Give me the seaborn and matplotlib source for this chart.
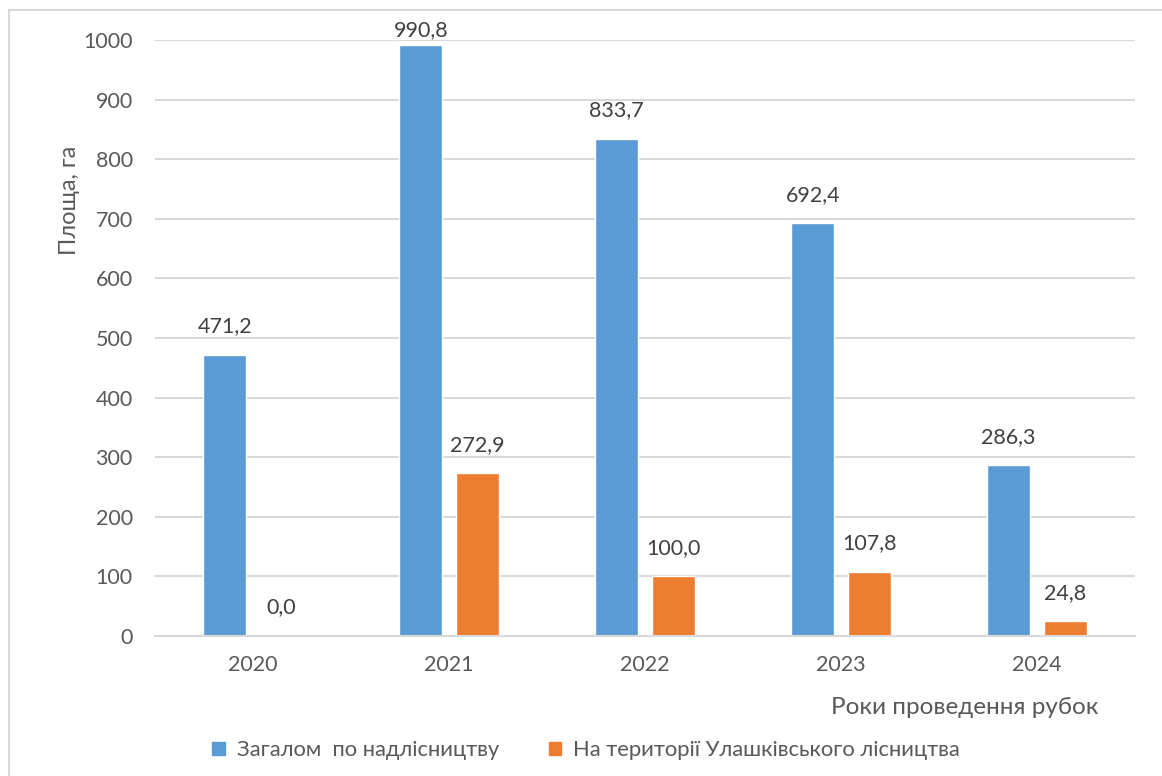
import matplotlib
matplotlib.use("Agg")
import matplotlib.pyplot as plt
import matplotlib.patches as mpatches
import seaborn as sns
import pandas as pd

years = ["2020", "2021", "2022", "2023", "2024"]
total_area = [471.2, 990.8, 833.7, 692.4, 286.3]
local_area = [0.0, 272.9, 100.0, 107.8, 24.8]
series_names = ["Загалом  по надлісництву", "На території Улашківського лісництва"]
colors = ["#5B9BD5", "#ED7D31"]

df = pd.DataFrame({
    "year": years * 2,
    "area": total_area + local_area,
    "series": [series_names[0]] * len(years) + [series_names[1]] * len(years),
})

sns.set_theme(style="white")
plt.rcParams["font.family"] = ["Lato", "DejaVu Sans"]

W, H = 1162, 776
fig = plt.figure(figsize=(W / 100, H / 100), dpi=100)

# chart frame
fig.patches.append(mpatches.Rectangle((9 / W, -0.05), 1.2, (H - 10) / H + 0.05,
                                      transform=fig.transFigure, fill=False,
                                      edgecolor="#d9d9d9", linewidth=1.5))

ax = fig.add_axes([155 / W, 1 - 636 / H, (1135 - 155) / W, (636 - 40) / H])

sns.barplot(data=df, x="year", y="area", hue="series", palette=colors,
            width=0.577, gap=0.24, ax=ax, legend=False, saturation=1)

ax.set_ylim(0, 1000)
ax.set_yticks(range(0, 1001, 100))
ax.yaxis.grid(True, color="#d9d9d9", linewidth=1.5)
ax.set_axisbelow(True)
for s in ["top", "right", "left"]:
    ax.spines[s].set_visible(False)
ax.spines["bottom"].set_color("#d9d9d9")
ax.spines["bottom"].set_linewidth(1.5)
ax.tick_params(axis="both", length=0, labelsize=15.5, labelcolor="#595959")
ax.tick_params(axis="y", pad=16)
ax.tick_params(axis="x", pad=14)
ax.set_xlabel("")
ax.set_ylabel("")

# value labels above bars
for container in ax.containers:
    for bar in container:
        v = bar.get_height()
        cx = bar.get_x() + bar.get_width() / 2
        ty = min(v + 48, 1017)
        ax.text(cx, ty, f"{v:.1f}".replace(".", ","), ha="center", va="center",
                fontsize=15.5, color="#404040", clip_on=False)

fig.text(70 / W, 1 - 200 / H, "Площа, га", rotation=90, ha="center", va="center",
         fontsize=17, color="#595959")
fig.text(1098 / W, 1 - 707 / H, "Роки проведення рубок", ha="right", va="center",
         fontsize=17.5, color="#595959")

handles = [mpatches.Patch(color=c, label=n) for c, n in zip(colors, series_names)]
fig.legend(handles=handles, loc="center", bbox_to_anchor=(586 / W, 1 - 750 / H),
           ncol=2, frameon=False, fontsize=15.8, labelcolor="#595959",
           handlelength=0.55, handleheight=0.55, handletextpad=0.55,
           columnspacing=2.27)

fig.savefig("out.png", dpi=100)
